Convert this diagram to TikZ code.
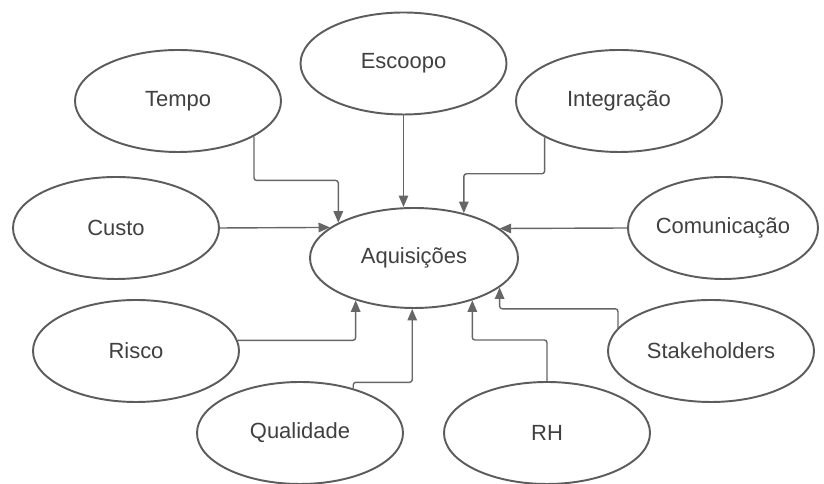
\documentclass[tikz,border=0pt]{standalone}
\usepackage{fontspec}
\setmainfont{Liberation Sans}
\usetikzlibrary{shapes,arrows.meta}
\definecolor{edgegray}{HTML}{5C5C5C}
\definecolor{linegray}{HTML}{666666}
\definecolor{textgray}{HTML}{404040}

\begin{document}
\begin{tikzpicture}[scale=1.0,
    area/.style={ellipse,draw=edgegray,line width=1.1pt,fill=white,
      minimum width=4.12cm,minimum height=2.04cm,inner sep=0pt,
      text=textgray,font=\fontsize{12.5}{15}\selectfont},
    link/.style={draw=linegray,line width=0.8pt,rounded corners=1.5pt,
      -{Triangle[length=2.3mm,width=1.9mm]}}]
  % Canvas
  \useasboundingbox (0,0) rectangle (16.48,9.68);

  % Central area
  \node[area,minimum width=4.16cm,minimum height=2.0cm] (aq) at (8.28,4.52) {Aquisições};

  % Knowledge areas around it
  \node[area] (tempo) at (3.56,7.66) {Tempo};
  \node[area] (esc) at (8.07,8.41) {Escoopo};
  \node[area] (integ) at (12.38,7.66) {Integração};
  \node[area] (custo) at (2.32,5.12) {Custo};
  \node[area,minimum width=3.8cm] (com) at (14.46,5.12) {Comunicação};
  \node[area] (risco) at (2.72,2.66) {Risco};
  \node[area] (qual) at (6.00,1.02) {Qualidade};
  \node[area] (rh) at (10.94,1.02) {RH};
  \node[area] (stake) at (14.22,2.66) {Stakeholders};

  % Upper connectors
  \draw[link] (tempo.-25) -- ++(0,-0.88) -| (aq.155.8);
  \draw[link] (esc.south) -- (esc.south |- aq.north);
  \draw[link] (integ.206.9) -- ++(0,-0.73) -| (aq.42);

  % Side connectors
  \draw[link] (custo.east) -- (aq.160.2);
  \draw[link] (com.west) -- (aq.19.8);

  % Lower connectors
  \draw[link] (risco.6.2) -| (aq.216.3);
  \draw[link] (qual.40.2) -- ++(0,0.12) -| (aq.-92);
  \draw[link] (rh.north) -- ++(0,0.82) -| (aq.-36.9);
  \draw[link] (stake.166) -- ++(0,0.38) -| (aq.-19.35);
\end{tikzpicture}
\end{document}
